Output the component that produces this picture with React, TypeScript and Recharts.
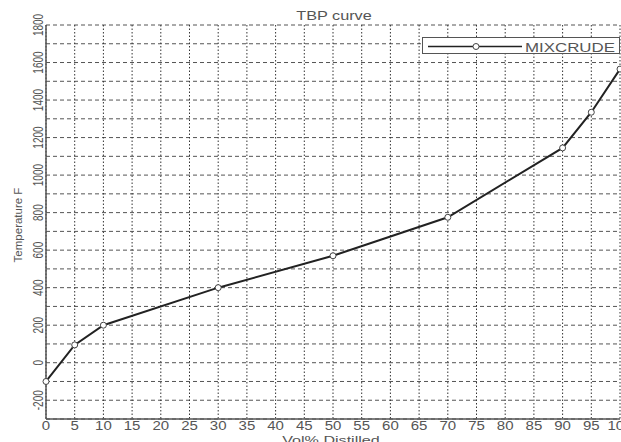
import React from "react";
import {
  CartesianGrid,
  Customized,
  Legend,
  Line,
  LineChart,
  XAxis,
  YAxis,
} from "recharts";

const volDistilled = [0, 5, 10, 30, 50, 70, 90, 95, 100];
const mixcrude = [-100, 95, 200, 400, 570, 775, 1145, 1335, 1565];
const xTicks = [0, 5, 10, 15, 20, 25, 30, 35, 40, 45, 50, 55, 60, 65, 70, 75, 80, 85, 90, 95, 100];
const yTicks = [-300, -200, -100, 0, 100, 200, 300, 400, 500, 600, 700, 800, 900, 1000, 1100, 1200, 1300, 1400, 1500, 1600, 1700, 1800];

const data = volDistilled.map((v, i) => ({ vol: v, temp: mixcrude[i] }));

const FONT = "'Liberation Sans', Arial, sans-serif";
const TEXT = "#555";

function XTick({ x, payload }: any) {
  return (
    <text
      transform={`translate(${x},430) scale(1.25,1)`}
      textAnchor="middle"
      fontSize={12}
      fontFamily={FONT}
      fill={TEXT}
    >
      {payload.value}
    </text>
  );
}

function YTick({ y, payload }: any) {
  if (payload.value % 200 !== 0) return <g />;
  return (
    <text
      transform={`translate(43,${y}) scale(1.4,1) rotate(-90)`}
      textAnchor="middle"
      fontSize={10}
      fontFamily={FONT}
      fill={TEXT}
    >
      {payload.value}
    </text>
  );
}

function Labels() {
  return (
    <g fontFamily={FONT} fill={TEXT}>
      <text transform="translate(334,20) scale(1.3,1)" textAnchor="middle" fontSize={12.5}>
        TBP curve
      </text>
      <text transform="translate(331,443.5) scale(1.4,1)" textAnchor="middle" fontSize={11.5}>
        Vol% Distilled
      </text>
      <text transform="translate(22,225) rotate(-90)" textAnchor="middle" fontSize={11.5}>
        Temperature F
      </text>
    </g>
  );
}

function LegendBox() {
  return (
    <svg width={200} height={18} style={{ display: "block" }}>
      <rect x={0.5} y={0.5} width={197} height={16} fill="#fff" stroke="#555" />
      <line x1={6} x2={100} y1={9.5} y2={9.5} stroke="#222" strokeWidth={1.5} />
      <circle cx={54} cy={9.5} r={3} fill="#fff" stroke="#444" />
      <text
        transform="translate(103,15) scale(1.35,1)"
        fontSize={12.5}
        fontFamily={FONT}
        fill={TEXT}
      >
        MIXCRUDE
      </text>
    </svg>
  );
}

export default function App() {
  return (
    <div style={{ position: "absolute", left: 0, top: 0, background: "#fff" }}>
      <LineChart
        width={621}
        height={442}
        data={data}
        margin={{ top: 25, right: 1, left: 0, bottom: 0 }}
      >
        <CartesianGrid
          vertical={false}
          stroke="#555"
          strokeDasharray="4 3"
        />
        <CartesianGrid
          horizontal={false}
          stroke="#333"
          strokeDasharray="1.5 2"
        />
        <XAxis
          dataKey="vol"
          type="number"
          domain={[0, 100]}
          ticks={xTicks}
          interval={0}
          height={23}
          tick={<XTick />}
          tickLine={false}
          axisLine={{ stroke: "#555", strokeWidth: 1.5 }}
        />
        <YAxis
          type="number"
          domain={[-300, 1800]}
          ticks={yTicks}
          interval={0}
          width={46}
          tick={<YTick />}
          tickLine={false}
          axisLine={{ stroke: "#555", strokeWidth: 1.5 }}
        />
        <Legend
          layout="horizontal"
          verticalAlign="middle"
          align="center"
          wrapperStyle={{ position: "absolute", left: 422, top: 37, width: 200 }}
          content={() => <LegendBox />}
        />
        <Line
          type="linear"
          dataKey="temp"
          name="MIXCRUDE"
          stroke="#222"
          strokeWidth={2}
          dot={{ r: 3, fill: "#fff", stroke: "#444", strokeWidth: 1 }}
          isAnimationActive={false}
        />
        <Customized component={Labels} />
      </LineChart>
    </div>
  );
}
